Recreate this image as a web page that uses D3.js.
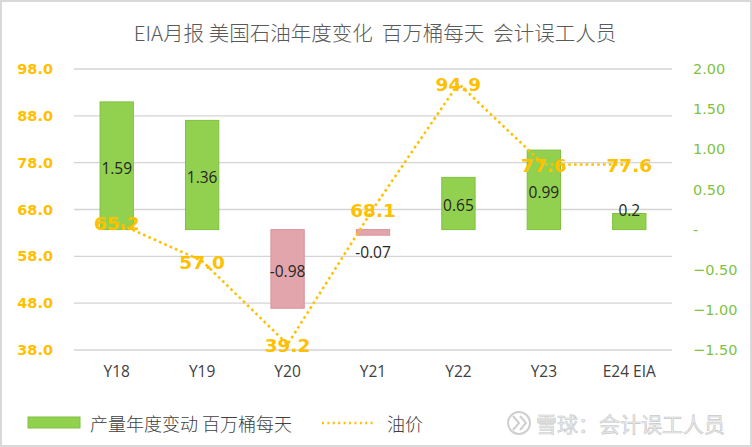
<!DOCTYPE html>
<html><head><meta charset="utf-8">
<script src="https://cdn.jsdelivr.net/npm/d3@7/dist/d3.min.js"></script>
<style>body{margin:0;background:#fff}svg{display:block}</style>
</head><body><svg id="c" width="752" height="447"></svg>
<script>
const categories = ["Y18","Y19","Y20","Y21","Y22","Y23","E24 EIA"];
const prodChange = [1.59, 1.36, -0.98, -0.07, 0.65, 0.99, 0.2];
const oilPrice = [65.2, 57.0, 39.2, 68.1, 94.9, 77.6, 77.6];
const leftTicks = [38, 48, 58, 68, 78, 88, 98];
const rightTicks = [-1.5, -1.0, -0.5, 0, 0.5, 1.0, 1.5, 2.0];
const title = "EIA月报 美国石油年度变化  百万桶每天  会计误工人员";
const legendBar = "产量年度变动 百万桶每天";
const legendLine = "油价";
const watermark = "雪球：会计误工人员";

const svg = d3.select("#c");
const W = 752, H = 447;
const L = 74, R = 672, T = 69, B = 350;
const CJK = "'Noto Sans CJK SC','Noto Sans',sans-serif";
const GOLD = "#FFC000", GREEN = "#92D050", GTXT = "#7FC241";

svg.append("rect").attr("x",1).attr("y",1).attr("width",W-2).attr("height",H-2)
  .attr("fill","#fff").attr("stroke","#d9d9d9").attr("stroke-width",2);

const x = d3.scaleBand().domain(categories).range([L,R]).paddingInner(0.61).paddingOuter(0.305);
const yL = d3.scaleLinear().domain([38,98]).range([B,T]);
const yR = d3.scaleLinear().domain([-1.5,2.0]).range([B,T]);
const cx = c => x(c) + x.bandwidth()/2;

// title
svg.append("text").attr("x",375).attr("y",32).attr("text-anchor","middle")
  .attr("dominant-baseline","central").attr("font-family",CJK).attr("font-weight",300)
  .attr("font-size",20.5).attr("fill","#595959").style("white-space","pre").text(title);

// gridlines
svg.append("g").selectAll("line").data(leftTicks).join("line")
  .attr("x1",L).attr("x2",R).attr("y1",d=>yL(d)).attr("y2",d=>yL(d))
  .attr("stroke","#d4d4d4").attr("stroke-width",1.3);

// left axis
const axL = svg.append("g").attr("transform",`translate(${L},0)`)
  .call(d3.axisLeft(yL).tickValues(leftTicks).tickSize(0).tickPadding(21).tickFormat(d3.format(".1f")));
axL.select(".domain").remove();
axL.selectAll("text").attr("font-family","'DejaVu Sans',sans-serif").attr("font-weight","bold")
  .attr("font-size",14.5).attr("fill",GOLD);

// right axis
const axR = svg.append("g").attr("transform",`translate(${R},0)`)
  .call(d3.axisRight(yR).tickValues(rightTicks).tickSize(0).tickPadding(21)
    .tickFormat(d => d === 0 ? "-" : d3.format(".2f")(d)));
axR.select(".domain").remove();
axR.selectAll("text").attr("font-family","'DejaVu Sans',sans-serif")
  .attr("font-size",14.5).attr("fill",GTXT);

// x axis labels
const axX = svg.append("g").attr("transform",`translate(0,${B})`)
  .call(d3.axisBottom(x).tickSize(0).tickPadding(16));
axX.select(".domain").remove();
axX.selectAll("text").attr("font-family","'Open Sans',sans-serif").attr("font-size",15.5).attr("fill","#404040");

// bars
const bars = categories.map((c,i)=>({c, v: prodChange[i]}));
svg.append("g").selectAll("rect").data(bars).join("rect")
  .attr("x",d=>x(d.c)).attr("width",x.bandwidth())
  .attr("y",d=>Math.min(yR(d.v),yR(0))).attr("height",d=>Math.abs(yR(d.v)-yR(0)))
  .attr("fill",d=>d.v>=0?GREEN:"#E3A5AC")
  .attr("stroke",d=>d.v>=0?"#80C040":"#DA929C").attr("stroke-width",1);

// bar labels
svg.append("g").selectAll("text").data(bars).join("text")
  .attr("x",d=>cx(d.c))
  .attr("y",d=>{
    const h = Math.abs(yR(d.v)-yR(0));
    if (h >= 24) return (yR(d.v)+yR(0))/2 + 2;
    return d.v >= 0 ? yR(d.v) - 4 : yR(d.v) + 17;
  })
  .attr("text-anchor","middle").attr("dominant-baseline","central")
  .attr("font-family","'Open Sans',sans-serif").attr("font-size",15.5).attr("fill","#262626")
  .text(d=>String(d.v));

// line
const pts = categories.map((c,i)=>({c, v: oilPrice[i]}));
svg.append("path").datum(pts)
  .attr("d", d3.line().x(d=>cx(d.c)).y(d=>yL(d.v)))
  .attr("fill","none").attr("stroke",GOLD).attr("stroke-width",2.6)
  .attr("stroke-dasharray","2.6,3.2");

// line labels
svg.append("g").selectAll("text").data(pts).join("text")
  .attr("x",d=>cx(d.c)).attr("y",d=>yL(d.v)+1)
  .attr("text-anchor","middle").attr("dominant-baseline","central")
  .attr("font-family","'DejaVu Sans',sans-serif").attr("font-weight","bold")
  .attr("font-size",18.5).attr("fill",GOLD)
  .text(d=>d3.format(".1f")(d.v));

// legend
const lg = svg.append("g");
lg.append("rect").attr("x",28).attr("y",417).attr("width",52).attr("height",11)
  .attr("fill",GREEN).attr("stroke","#80C040").attr("stroke-width",1);
lg.append("text").attr("x",90).attr("y",423).attr("dominant-baseline","central")
  .attr("font-family",CJK).attr("font-weight",300).attr("font-size",18).attr("fill","#404040").text(legendBar);
lg.append("line").attr("x1",322).attr("x2",374).attr("y1",423).attr("y2",423)
  .attr("stroke",GOLD).attr("stroke-width",2.4).attr("stroke-dasharray","2,3.4");
lg.append("text").attr("x",387).attr("y",423).attr("dominant-baseline","central")
  .attr("font-family",CJK).attr("font-weight",300).attr("font-size",18).attr("fill","#404040").text(legendLine);

// watermark
const wm = svg.append("g");
wm.append("circle").attr("cx",519).attr("cy",423).attr("r",11)
  .attr("fill","none").attr("stroke","#cfcfcf").attr("stroke-width",2);
wm.append("path").attr("d","M513,416 L519,423 L513,430 M520,416 L526,423 L520,430")
  .attr("fill","none").attr("stroke","#cfcfcf").attr("stroke-width",2);
wm.append("text").attr("x",536).attr("y",423).attr("dominant-baseline","central")
  .attr("font-family",CJK).attr("font-size",21).attr("fill","#ececec")
  .attr("stroke","#c8c8c8").attr("stroke-width",0.6).text(watermark);
</script></body></html>
